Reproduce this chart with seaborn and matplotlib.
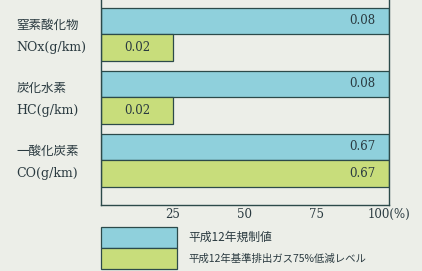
import matplotlib
matplotlib.use("Agg")
import matplotlib.pyplot as plt
import matplotlib.patches as mpatches
import matplotlib.transforms as mtransforms
import seaborn as sns
import pandas as pd

# categories (two-line labels) and values
categories = ["窒素酸化物\nNOx(g/km)", "炭化水素\nHC(g/km)", "一酸化炭素\nCO(g/km)"]
series = ["平成12年規制値", "平成12年基準排出ガス75%低減レベル"]
reg_pct = [100, 100, 100]
low_pct = [25, 25, 100]
reg_lbl = ["0.08", "0.08", "0.67"]
low_lbl = ["0.02", "0.02", "0.67"]
xticks = [25, 50, 75, 100]
xtick_labels = ["25", "50", "75", "100(%)"]

blue = "#8fd0dc"
green = "#c8dd7b"
edge = "#2c4a4a"
bg = "#eceee8"
txt = "#2a3a40"
serif = ["DejaVu Serif", "Noto Sans CJK JP"]

df = pd.DataFrame({
    "cat": categories * 2,
    "series": [series[0]] * 3 + [series[1]] * 3,
    "pct": reg_pct + low_pct,
})

sns.set_style("white")
plt.rcParams["font.family"] = ["Noto Sans CJK JP", "DejaVu Sans"]

fig = plt.figure(figsize=(4.22, 2.71), dpi=100)
fig.patch.set_facecolor(bg)
ax = fig.add_axes([101/422, 1 - 205/271, 288/422, 205/271])
ax.set_facecolor(bg)

sns.barplot(data=df, y="cat", x="pct", hue="series", orient="h",
            palette=[blue, green], saturation=1, width=0.84,
            edgecolor=edge, linewidth=0.9, ax=ax, legend=False)

# value labels
for bars, labels in zip(ax.containers, [reg_lbl, low_lbl]):
    for b, lab in zip(bars, labels):
        cy = b.get_y() + b.get_height() / 2
        w = b.get_width()
        if w >= 100:
            ax.text(w - 4.8, cy, lab, ha="right", va="center", fontsize=8.5,
                    color=txt, family=serif)
        else:
            ax.text(w / 2, cy, lab, ha="center", va="center", fontsize=8.5,
                    color=txt, family=serif)

ax.set_xlim(0, 100)
ax.set_ylim(2.71, -0.54)
ax.set_xticks(xticks)
ax.set_xticklabels(xtick_labels, fontsize=8.5, color=txt, family=serif)
ax.tick_params(axis="x", direction="in", length=5, width=0.8, color=edge, pad=2)
ax.set_yticks(range(len(categories)))
ax.set_yticklabels(categories, fontsize=9, color=txt, ha="left", va="center",
                   linespacing=1.95, family=serif)
ax.tick_params(axis="y", length=0, pad=61)
shift = mtransforms.ScaledTranslation(0, -2.5 / 100, fig.dpi_scale_trans)
for lab in ax.get_yticklabels():
    lab.set_transform(lab.get_transform() + shift)
ax.set_xlabel("")
ax.set_ylabel("")
for s in ["left", "right", "bottom"]:
    ax.spines[s].set_color(edge)
    ax.spines[s].set_linewidth(1.0)
ax.spines["top"].set_visible(False)

handles = [mpatches.Patch(facecolor=blue, edgecolor=edge, linewidth=0.9),
           mpatches.Patch(facecolor=green, edgecolor=edge, linewidth=0.9)]
leg = fig.legend(handles, series, loc="upper left",
                 bbox_to_anchor=(101/422, 1 - 227/271), frameon=False,
                 fontsize=8, handlelength=6.8, handleheight=2.53,
                 handletextpad=1.05, labelspacing=0, borderpad=0,
                 borderaxespad=0)
for t in leg.get_texts():
    t.set_color(txt)
leg.get_texts()[0].set_fontsize(8.5)
leg.get_texts()[1].set_fontsize(7.5)

fig.savefig("out.png", dpi=100, facecolor=bg)
